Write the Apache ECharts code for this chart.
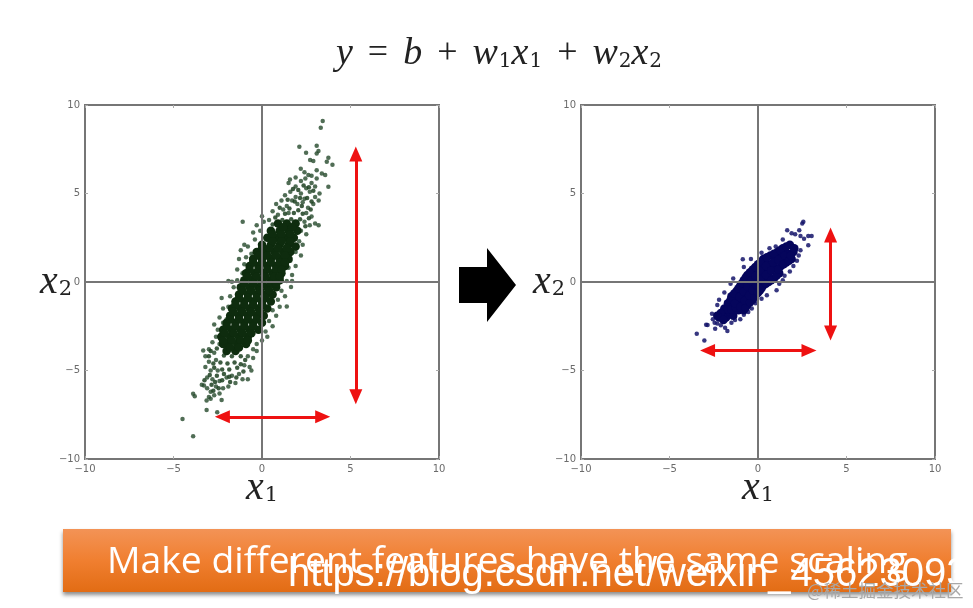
<!DOCTYPE html>
<html><head><meta charset="utf-8">
<script src="https://cdn.jsdelivr.net/npm/echarts@6/dist/echarts.min.js"></script>
<style>html,body{margin:0;padding:0;background:#fff}#c{width:973px;height:608px}</style>
</head><body><div id="c"></div>
<script>
const leftEdge = [[3.43,9.09],[3.32,8.72],[2.11,7.64],[3.09,7.7],[2.49,7.3],[3.19,7.4],[3.09,7.26],[2.72,6.89],[2.9,6.83],[3.75,7.02],[3.66,6.79],[3.98,6.62],[2.19,6.4],[3.09,6.32],[2.62,6.04],[2.45,5.85],[3.38,6.13],[3.57,6.04],[3.75,5.38],[3.09,5.85],[1.58,5.79],[2.8,6.0],[2.4,6.2],[1.9,5.9],
[1.5,5.6],[1.9,5.4],[2.2,5.7],[2.5,5.3],[2.8,5.6],[3.0,5.4],[3.25,5.0],[1.3,4.9],[1.6,5.1],[1.9,4.8],[2.2,5.0],[2.4,4.7],[2.7,5.1],[3.0,4.8],[3.2,4.6],[0.8,4.4],[1.1,4.6],[1.4,4.3],[1.7,4.6],[2.0,4.4],[2.3,4.5],[2.6,4.2],[2.9,4.4],
[0.6,4.0],[0.9,3.8],[1.2,4.1],[1.5,3.9],[2.5,3.9],[2.8,3.7],[3.0,3.3],[3.2,3.2],[-1.09,3.4],[0,3.72],[-0.3,3.2],[0.1,3.4],[0.4,3.5],[2.4,3.4],[2.7,3.2],[-0.5,2.8],[-0.1,2.9],[2.2,2.9],[2.5,2.7],[-1.0,2.1],[-0.8,2.0],[-0.4,2.4],[2.1,2.3],[2.3,2.1],
[-1.2,1.8],[-0.9,1.4],[-0.6,1.6],[1.9,1.7],[2.2,1.5],[-1.3,1.3],[-1.0,1.0],[1.6,1.2],[1.9,0.9],[-1.4,0.7],[-1.1,0.5],[1.5,0.8],[1.7,0.4],[-1.9,0.05],[-1.7,0.02],[-1.4,0.1],[1.4,0.05],[1.7,0.05],[1.64,-0.28],[1.4,-1.38],[-1.6,-0.3],[-1.3,-0.6],[1.1,-0.5],[1.3,-0.8],[-2.28,-0.9],[-1.8,-0.8],[-1.5,-1.1],[0.9,-1.0],[1.0,-1.4],
[-2.2,-1.5],[-1.9,-1.4],[-1.7,-1.7],[0.6,-1.6],[0.8,-1.9],[-2.4,-2.0],[-2.2,-2.3],[-2.0,-2.1],[0.4,-2.2],[0.6,-2.5],[-2.7,-2.4],[-2.5,-2.7],[-2.3,-2.9],[0.2,-2.8],[0.3,-3.1],[-2.6,-3.1],[-2.8,-3.4],[-2.4,-3.5],[0.0,-3.3],[-0.3,-3.5],[-3.32,-3.87],[-3.0,-3.8],[-2.7,-4.0],[-0.5,-3.8],[-0.3,-3.9],[-3.2,-4.2],[-3.0,-4.5],[-2.6,-4.4],[-0.8,-4.2],[-0.5,-4.3],
[-3.2,-4.8],[-2.9,-5.0],[-2.5,-5.0],[-1.0,-4.7],[-0.7,-4.8],[-0.6,-5.0],[-3.28,-5.85],[-3.4,-5.8],[-3.1,-5.4],[-2.8,-5.5],[-2.4,-5.6],[-2.0,-5.4],[-1.7,-5.3],[-1.3,-5.2],[-1.1,-5.5],[-1.5,-5.7],[-0.8,-5.5],[-3.1,-6.0],[-2.9,-6.2],[-2.6,-5.9],[-2.2,-6.0],[-1.9,-5.9],[-3.0,-6.5],[-2.7,-6.4],[-2.4,-6.3],[-3.89,-6.32],[-3.8,-6.45],[-3.13,-6.7],[-2.9,-6.6],[-2.28,-6.66],[-3.13,-7.23],[-2.53,-7.36],[-4.49,-7.74],[-3.89,-8.72]];
const leftMid = [[2.05,5.2],[2.35,5.45],[2.65,5.35],[1.75,5.25],[2.9,5.15],[1.45,4.65],[1.85,4.55],[2.15,4.75],[2.55,4.75],[2.8,4.55],[1.0,4.2],[1.55,4.15],[2.05,4.05],[2.25,4.3],[2.75,4.1],[0.75,3.65],[1.3,3.85],[1.8,3.9],[2.3,3.85],[2.65,3.6],[0.6,3.25],[1.15,3.5],[1.65,3.55],[2.15,3.55],[2.45,3.15],
[-2.9,-3.9],[-2.55,-3.75],[-2.15,-4.15],[-1.7,-4.2],[-1.2,-4.2],[-0.95,-4.4],[-3.0,-4.2],[-2.75,-4.6],[-2.35,-4.55],[-1.95,-4.6],[-1.55,-4.55],[-1.2,-4.65],[-2.7,-4.85],[-2.25,-4.95],[-1.85,-4.95],[-1.4,-4.85],[-1.05,-5.05],[-2.95,-5.25],[-2.55,-5.3],[-2.15,-5.2],[-1.85,-5.35],[-1.45,-5.4],[-2.65,-5.65],[-2.25,-5.55],[-1.8,-5.65],[-3.25,-5.55],[-2.85,-5.8],[-2.45,-6.0],[-2.75,-6.15]];
const leftCore = [[0.9,3.3],[1.4,3.3],[1.9,3.3],[0.5,2.9],[1.0,2.9],[1.5,2.9],[2.0,2.9],[0.3,2.5],[0.8,2.5],[1.3,2.5],[1.8,2.5],[0.0,2.1],[0.5,2.1],[1.0,2.1],[1.5,2.1],[1.9,2.0],[-0.3,1.7],[0.2,1.7],[0.7,1.7],[1.2,1.7],[1.6,1.7],[-0.5,1.3],[0.0,1.3],[0.5,1.3],[1.0,1.3],[1.5,1.3],[-0.7,0.9],[-0.2,0.9],[0.3,0.9],[0.8,0.9],[1.3,0.9],[-0.9,0.5],[-0.4,0.5],[0.1,0.5],[0.6,0.5],[1.1,0.5],[-1.0,0.1],[-0.5,0.1],[0.0,0.1],[0.5,0.1],[1.0,0.1],[-1.2,-0.3],[-0.7,-0.3],[-0.2,-0.3],[0.3,-0.3],[0.8,-0.3],[-1.3,-0.7],[-0.8,-0.7],[-0.3,-0.7],[0.2,-0.7],[0.6,-0.7],[-1.5,-1.1],[-1.0,-1.1],[-0.5,-1.1],[0.0,-1.1],[0.5,-1.1],[-1.7,-1.5],[-1.2,-1.5],[-0.7,-1.5],[-0.2,-1.5],[0.3,-1.5],[-1.8,-1.9],[-1.3,-1.9],[-0.8,-1.9],[-0.3,-1.9],[0.1,-1.9],[-2.0,-2.3],[-1.5,-2.3],[-1.0,-2.3],[-0.5,-2.3],[0.0,-2.3],[-2.2,-2.7],[-1.7,-2.7],[-1.2,-2.7],[-0.7,-2.7],[-0.2,-2.7],[-2.3,-3.1],[-1.8,-3.1],[-1.3,-3.1],[-0.8,-3.1],[-2.2,-3.5],[-1.9,-3.5],[-1.4,-3.5],[-0.9,-3.5],[-2.0,-3.9],[-1.5,-3.9]];
const leftCoreFill = [[1.2,3.1],[1.7,3.1],[0.6,2.7],[1.1,2.7],[1.6,2.7],[0.6,2.3],[1.1,2.3],[1.6,2.3],[0.0,1.9],[0.4,1.9],[0.9,1.9],[1.4,1.9],[-0.2,1.5],[0.3,1.5],[0.8,1.5],[1.3,1.5],[-0.5,1.1],[0.0,1.1],[0.5,1.1],[1.0,1.1],[1.3,1.1],[-0.7,0.7],[-0.2,0.7],[0.3,0.7],[0.8,0.7],[1.1,0.7],[-0.8,0.3],[-0.3,0.3],[0.2,0.3],[0.7,0.3],[1.0,0.3],[-1.0,-0.1],[-0.5,-0.1],[0.0,-0.1],[0.5,-0.1],[0.8,-0.1],[-1.1,-0.5],[-0.6,-0.5],[-0.1,-0.5],[0.4,-0.5],[-1.3,-0.9],[-0.8,-0.9],[-0.3,-0.9],[0.2,-0.9],[-1.5,-1.3],[-1.0,-1.3],[-0.5,-1.3],[0.0,-1.3],[-1.6,-1.7],[-1.1,-1.7],[-0.6,-1.7],[-0.1,-1.7],[-1.8,-2.1],[-1.3,-2.1],[-0.8,-2.1],[-0.3,-2.1],[-2.0,-2.5],[-1.5,-2.5],[-1.0,-2.5],[-0.5,-2.5],[-2.1,-2.9],[-1.6,-2.9],[-1.1,-2.9],[-0.6,-2.9],[-2.2,-3.3],[-1.7,-3.3],[-1.2,-3.3],[-0.8,-3.3],[-1.8,-3.7],[-1.3,-3.7]];
const rightEdge = [[-3.46,-2.92],[-3.03,-3.3],[-2.93,-2.42],[-2.85,-2.43],[-2.42,-2.64],[-2.45,-2.3],[-1.86,-2.58],[-1.73,-2.77],[-2.6,-1.8],[-2.55,-2.1],[-2.3,-2.35],[-2.1,-2.45],[-1.5,-2.3],[-1.3,-2.15],[-1.0,-2.1],[-0.8,-1.85],[-0.55,-1.7],[-0.35,-1.5],[-0.15,-1.2],[0.2,-0.95],[0.5,-0.75],[1.05,-0.47],[1.2,-0.1],[1.4,0.1],[1.5,0.35],[1.8,0.6],[2.0,0.9],[2.2,1.2],[2.3,1.5],[2.4,1.8],[2.84,2.08],[2.84,2.6],[3.03,2.6],[2.6,2.45],[2.33,2.92],[2.4,2.6],[2.56,3.4],[2.5,3.3],[2.1,2.7],[1.65,2.92],[1.9,2.75],[1.4,2.4],[1.0,2.0],[0.65,1.9],[0.2,1.65],[-0.4,1.3],[-0.86,1.28],[-0.8,0.85],[-1.4,0.2],[-1.55,-0.1],[-1.9,-0.6],[-2.2,-1.0],[-2.3,-1.3]];
const rightCore = [[-2.2,-2.0],[-2.0,-1.8],[-1.8,-2.0],[-1.9,-1.5],[-1.6,-1.7],[-1.4,-1.9],[-1.7,-1.2],[-1.4,-1.4],[-1.1,-1.6],[-0.8,-1.6],[-1.5,-0.8],[-1.2,-1.0],[-0.9,-1.2],[-0.6,-1.3],[-1.2,-0.5],[-0.9,-0.7],[-0.6,-0.9],[-0.3,-1.0],[-1.0,-0.2],[-0.7,-0.4],[-0.4,-0.6],[-0.1,-0.7],[-0.8,0.1],[-0.5,-0.1],[-0.2,-0.3],[0.1,-0.5],[-0.6,0.4],[-0.3,0.2],[0.0,0.0],[0.3,-0.2],[-0.3,0.7],[0.0,0.5],[0.3,0.3],[0.6,0.0],[0.0,1.0],[0.3,0.8],[0.6,0.5],[0.9,0.2],[0.3,1.3],[0.6,1.0],[0.9,0.8],[1.2,0.5],[0.7,1.5],[1.0,1.2],[1.3,0.9],[1.1,1.7],[1.3,1.4],[1.6,1.1],[1.4,1.9],[1.7,1.6],[1.9,1.3],[1.8,2.1],[2.0,1.7]];
const rightCoreFill = [[-1.75,-1.55],[-1.5,-1.55],[-1.25,-1.45],[-1.55,-1.0],[-1.3,-1.2],[-1.0,-1.4],[-0.7,-1.45],[-1.35,-0.65],[-1.05,-0.85],[-0.75,-1.05],[-0.45,-1.15],[-1.1,-0.35],[-0.8,-0.55],[-0.5,-0.75],[-0.2,-0.85],[-0.9,-0.05],[-0.6,-0.25],[-0.3,-0.45],[0.0,-0.6],[-0.7,0.25],[-0.4,0.05],[-0.1,-0.15],[0.2,-0.35],[-0.45,0.55],[-0.15,0.35],[0.15,0.15],[0.45,-0.1],[-0.15,0.85],[0.15,0.65],[0.45,0.4],[0.75,0.1],[0.15,1.15],[0.45,0.9],[0.75,0.65],[1.05,0.35],[0.5,1.4],[0.85,1.1],[1.15,0.7],[0.9,1.6],[1.15,1.25],[1.45,1.0],[1.25,1.8],[1.5,1.5],[1.75,1.2],[1.6,2.0],[1.85,1.5],[2.05,1.9],[-2.1,-1.75],[-2.3,-1.9],[-1.95,-2.15]];
const leftVertArrow = [5.3, 7.23, -6.48];
const leftHorizArrow = [-7.62, -2.24, 3.43];
const rightVertArrow = [4.1, 2.65, -2.88];
const rightHorizArrow = [-3.87, -2.85, 2.88];

const FRAME = '#767676', TICKTXT = '#6b6b6b', RED = '#ee1111';
const mathRich = {
  v: {fontFamily: 'Liberation Serif', fontStyle: 'italic', fontWeight:'normal', fontSize: 40, color: '#222'},
  s: {fontFamily: 'DejaVu Serif', fontWeight:'normal', fontSize: 21, color: '#222', padding: [15, 0, 0, 1]}
};
function fmt(v){ return String(v).replace('-', '\u2212'); }
function mkAxes(gi, xName, yNameGap){
  const base = {type:'value', min:-10, max:10, interval:5, gridIndex:gi, splitLine:{show:false}, axisLine:{show:false, onZero:false}};
  const tick = {show:true, inside:true, length:3, lineStyle:{color:'#aaa', width:1}};
  return {
    x:[Object.assign({}, base, {position:'bottom', axisTick:tick, axisLabel:{color:TICKTXT, fontSize:10, margin:5, fontFamily:'DejaVu Sans', formatter:fmt, showMinLabel:true, showMaxLabel:true},
         name:xName, nameLocation:'middle', nameGap:9, nameMoveOverlap:false, nameTextStyle:{rich:mathRich}}),
       Object.assign({}, base, {position:'top', axisTick:tick, axisLabel:{show:false}})],
    y:[Object.assign({}, base, {position:'left', axisTick:tick, axisLabel:{color:TICKTXT, fontSize:10, margin:5, fontFamily:'DejaVu Sans', formatter:fmt},
         name:'{v|x}{s|2}', nameLocation:'middle', nameRotate:0, nameGap:yNameGap, nameMoveOverlap:false, nameTextStyle:{rich:mathRich}}),
       Object.assign({}, base, {position:'right', axisTick:tick, axisLabel:{show:false}})]
  };
}
const a0 = mkAxes(0, '{v|x}{s|1}', 13), a1 = mkAxes(1, '{v|x}{s|1}', 16);
function idx(i){ return {xAxisIndex:i*2, yAxisIndex:i*2}; }
function zeroSeries(i){
  return Object.assign({type:'scatter', data:[], z:1, silent:true,
    markLine:{silent:true, symbol:'none', animation:false, label:{show:false}, lineStyle:{color:FRAME, width:2, type:'solid'},
      data:[{xAxis:0},{yAxis:0}]}}, idx(i));
}
function arrowSeries(i, v, h){
  const mk = (a,b)=>[{coord:a},{coord:b}];
  return Object.assign({type:'scatter', data:[], z:5, silent:true,
    markLine:{silent:true, animation:false, symbol:['triangle','triangle'], symbolSize:[13,15], label:{show:false},
      lineStyle:{color:RED, width:3, type:'solid', opacity:1},
      data:[mk([v[0],v[1]],[v[0],v[2]]), mk([h[1],h[0]],[h[2],h[0]])]}}, idx(i));
}
function pts(i, data, size, color, op, z){
  return Object.assign({type:'scatter', data, symbolSize:size, z, silent:true, animation:false,
    itemStyle:{color, opacity:op}}, idx(i));
}
const chart = echarts.init(document.getElementById('c'), null, {renderer:'canvas'});
chart.setOption({
  backgroundColor:'#fff', animation:false,
  title:{left:331, top:30, text:'{v|y}{o| = }{v|b}{o| + }{v|w}{s|1}{v|x}{s|1}{o| + }{v|w}{s|2}{v|x}{s|2}',
    textStyle:{fontWeight:'normal', rich:{
      v:{fontFamily:'Liberation Serif', fontStyle:'italic', fontWeight:'normal', fontSize:38, color:'#222'},
      o:{fontFamily:'Liberation Serif', fontWeight:'normal', fontSize:36, color:'#222', padding:[0,6,0,6]},
      s:{fontFamily:'DejaVu Serif', fontWeight:'normal', fontSize:20, color:'#222', padding:[15,0,0,1]}
    }}},
  grid:[
    {left:85, top:105, width:354, height:354, show:true, borderColor:FRAME, borderWidth:2, backgroundColor:'#fff'},
    {left:581, top:105, width:354, height:354, show:true, borderColor:FRAME, borderWidth:2, backgroundColor:'#fff'}
  ],
  xAxis:[...a0.x, ...a1.x],
  yAxis:[...a0.y, ...a1.y],
  series:[
    zeroSeries(0), zeroSeries(1),
    pts(0, leftEdge, 4.5, '#24482a', 0.8, 2),
    pts(0, leftMid, 4.5, '#1c3f20', 0.85, 2),
    pts(0, leftCore, 8.5, '#0e2c0e', 1, 3),
    pts(0, leftCoreFill, 8.5, '#0e2c0e', 1, 3),
    pts(1, rightCore, 8.5, '#05055c', 1, 3),
    pts(1, rightCoreFill, 8.5, '#05055c', 1, 3),
    pts(1, rightEdge, 4.5, '#14146a', 0.85, 2),
    arrowSeries(0, leftVertArrow, leftHorizArrow),
    arrowSeries(1, rightVertArrow, rightHorizArrow)
  ],
  graphic:[
    {type:'polygon', z:10, shape:{points:[[459,267],[487,267],[487,248],[516,285],[487,322],[487,303],[459,303]]}, style:{fill:'#000'}},
    {type:'rect', z:10, shape:{x:63,y:529,width:888,height:63}, style:{
      fill:new echarts.graphic.LinearGradient(0,0,0,1,[{offset:0,color:'#f39356'},{offset:0.5,color:'#f07f30'},{offset:1,color:'#e26c14'}]),
      shadowColor:'rgba(0,0,0,0.45)', shadowBlur:4, shadowOffsetX:0, shadowOffsetY:3}},
    {type:'text', z:11, left:107, top:544, style:{text:'Make different features have the same scaling', fill:'#fff', font:'37.3px "Open Sans", sans-serif'}},
    {type:'text', z:12, left:288, top:555, style:{text:'https://blog.csdn.net/weixin_45623093', fill:'#fff', font:'40px "Liberation Sans", sans-serif'}},
    {type:'text', z:13, left:807, top:582, style:{text:'@稀土掘金技术社区', fill:'#a8a8a8', font:'17.5px "Noto Sans CJK SC", sans-serif'}}
  ]
});
</script></body></html>
